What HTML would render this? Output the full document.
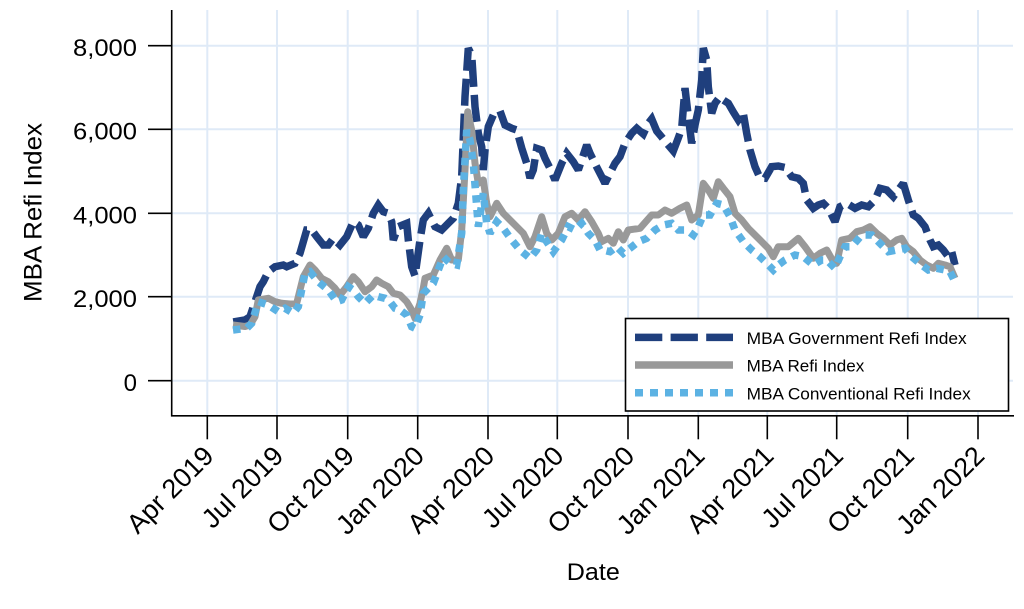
<!DOCTYPE html>
<html>
<head>
<meta charset="utf-8">
<style>
html,body{margin:0;padding:0;background:#fff;}
svg{display:block;}
text{font-family:"Liberation Sans",Arial,sans-serif;fill:#000;}
</style>
</head>
<body>
<svg width="1024" height="609" viewBox="0 0 1024 609" xmlns="http://www.w3.org/2000/svg">
<rect x="0" y="0" width="1024" height="609" fill="#fff"/>
<!-- gridlines -->
<g stroke="#dfeaf7" stroke-width="2">
<line x1="172" y1="45.7" x2="1013" y2="45.7"/>
<line x1="172" y1="129.3" x2="1013" y2="129.3"/>
<line x1="172" y1="213.3" x2="1013" y2="213.3"/>
<line x1="172" y1="296.7" x2="1013" y2="296.7"/>
<line x1="172" y1="380.7" x2="1013" y2="380.7"/>
<line x1="207.3" y1="10" x2="207.3" y2="416"/>
<line x1="277" y1="10" x2="277" y2="416"/>
<line x1="347.7" y1="10" x2="347.7" y2="416"/>
<line x1="417.7" y1="10" x2="417.7" y2="416"/>
<line x1="488" y1="10" x2="488" y2="416"/>
<line x1="557.3" y1="10" x2="557.3" y2="416"/>
<line x1="628" y1="10" x2="628" y2="416"/>
<line x1="698.3" y1="10" x2="698.3" y2="416"/>
<line x1="767.3" y1="10" x2="767.3" y2="416"/>
<line x1="836.7" y1="10" x2="836.7" y2="416"/>
<line x1="907.7" y1="10" x2="907.7" y2="416"/>
<line x1="978" y1="10" x2="978" y2="416"/>
</g>

<!-- Government Refi (navy dashed) -->
<polyline fill="none" stroke="#1f3f7d" stroke-width="7.5" stroke-dasharray="27 8" stroke-linejoin="miter" stroke-miterlimit="2"
points="233.3,322 245,320 250,316.7 255,301.7 260,286.7 263.3,281.7 268.3,271.7 275,266.7 283.3,265 286.7,266.7 295,263.3 300,253.3 306.7,230 311.7,230 316.7,236.7 323.3,245 328.3,245 333.3,238.3 340,245 346.7,236.7 353.3,221.7 358.3,225 363.3,236.7 368.3,228.3 373.3,213.3 378.3,205 383.3,211.7 388.3,213.3 391.7,221.7 393.3,240 398.3,226.7 406.7,223.3 408.3,240 411.7,266.7 415,276 420,240 423.3,220 428.3,213.3 435,226.7 441.7,230 448.3,223.3 453.3,218.3 458.3,203.3 461.7,176.7 465,96.7 468.3,48.3 471.7,55 473.3,80 475,106.7 478.3,133.3 481.7,146.7 483.3,170 485,150 488.3,126.7 493.3,115 500,111 505,125 511.7,128.3 516.7,130 521.7,148 526.7,163.3 530,178 533.3,170 536.7,148.3 541.7,150 545,158.3 550,168.3 555,180 561.7,163.3 566.7,153.3 573.3,161.7 578.3,170 583.3,155 586.7,145 590,153.3 596.7,167 601.7,176.7 605,183.3 610,173.3 615,163.3 620,156.7 625,143.3 631.7,133.3 636.7,128.3 643.3,134 648.3,123.3 651.7,119 656.7,131 661.7,137 666.7,143.3 673.3,151 678.3,138 681.7,128.3 685,88 688.3,116.7 691.7,143.3 695,125 698.3,110 701.7,80 703.3,48 706.7,60 708.3,86.7 711.7,113.3 715,103.3 720,96.7 723.3,100 728.3,103.3 733.3,112 738.3,120 743.3,113.3 746.7,133.3 750,150 755,166.7 760,178 765,178.3 771.7,166.7 778.3,166 785,167.5 791.7,176.7 798.3,178.3 803.3,183.3 806.7,200 813.3,208.3 818.3,205 823.3,203.3 828.3,208.3 835,221.7 840,206.7 846.7,203.3 855,208.3 861.7,205 868.3,206.7 875,200 880,188.3 886.7,190 893.3,196.7 898.3,190 903.3,183.3 908.3,200 913.3,215 918.3,218.3 925,226.7 930,240 933.3,246.7 938.3,245 943.3,250 948.3,256.7 951.7,251.7 955,265"/>

<!-- Refi (gray solid) -->
<polyline fill="none" stroke="#999999" stroke-width="7" stroke-linejoin="round" stroke-linecap="butt"
points="233,325 245,326.5 250,325 255,316.7 258.3,300 268.3,298.3 275,301.7 281.7,303.3 290,304 296.7,303.3 303.3,276.7 310,265 315,270 321.7,278.3 328.3,281.7 335,288.3 340,295 346.7,286.7 353.3,276.7 358.3,281.7 365,291.7 371.7,286.7 376.7,280 381.7,283.3 388.3,286.7 393.3,293.3 400,295 406.7,301.7 411.7,310 415,318.3 420,303.3 423.3,288 425,278.3 433.3,275 440,260 446.7,248.3 451.7,260 458.3,260 461.7,230 465,170 467.7,111.7 471.7,130 475,163.3 478.3,183.3 483.3,180 486.7,203.3 490,216.7 496.7,203.3 503.3,213.3 510,220 516.7,226.7 523.3,233.3 530,246.7 535,236.7 541.7,216.7 546.7,233.3 551.7,240 558.3,233.3 565,216.7 571.7,213.3 578.3,220 585,211.7 591.7,221.7 598.3,233.3 601.7,241.7 608.3,238.3 613.3,243.3 618.3,231.7 623.3,240 628.3,230 640,228.3 651.7,215 658.3,215 665,210 671.7,213.3 680,208.3 686.7,205 691.7,220 698.3,215 703.3,183.3 708.3,190 713.3,198.3 718.3,181.7 723.3,188.3 730,196.7 735,213.3 741.7,220 748.3,228.3 755,235 761.7,241.7 768.3,248.3 773.3,256.7 778.3,246.7 788.3,246.7 798.3,238.3 805,246.7 813.3,258.3 820,253.3 826.7,250 833.3,261.7 836.7,263.3 841.7,240 850,238.3 856.7,231.7 863.3,230 870,226.7 876.7,233.3 883.3,238.3 890,245 896.7,240 901.7,238.3 906.7,246.7 913.3,251.7 920,260 926.7,265 933.3,268.3 938.3,263.3 945,265 950,266.7 955,278.3"/>

<!-- Conventional Refi (light blue dotted) -->
<polyline fill="none" stroke="#5cb2e3" stroke-width="7.5" stroke-dasharray="7.5 7" stroke-linejoin="miter" stroke-miterlimit="2"
points="233,330 246.7,328.3 251.7,323.3 258.3,301.7 268.3,305 278.3,311.7 285,308.3 293.3,313.3 298.3,306.7 305,273.3 310,271.7 318.3,281.7 328.3,290 336.7,301.7 341.7,300 348.3,286.7 353.3,290 358.3,296.7 365,303.3 373.3,295 378.3,296.7 385,298.3 390,301.7 395,308.3 400,310 406.7,315 411.7,326.7 415,328.3 420,315 423.3,293.3 433.3,283.3 438.3,270 443.3,256.7 450,263.3 456.7,265 461.7,233.3 463.3,190 466.7,130 470,140 473.3,163.3 476.7,206.7 478.3,226.7 483.3,193.3 486.7,223.3 490,233.3 496.7,221.7 503.3,228.3 511.7,240 520,250 530,258.3 536.7,250 541.7,233.3 546.7,241.7 553.3,251.7 561.7,240 568.3,226.7 575,230 581.7,223.3 588.3,233.3 595,240 600,250 603.3,250 610,251.7 616.7,246.7 623.3,253.3 630,248.3 638.3,241.7 646.7,238.3 655,230 663.3,225 671.7,223.3 678.3,230 686.7,230 693.3,235 698.3,226.7 703.3,215 710,215 716.7,203.3 723.3,205 730,216.7 735,230 743.3,241.7 751.7,250 760,256.7 766.7,263.3 773.3,270 778.3,265 785,260 795,255 803.3,256.7 813.3,265 821.7,260 826.7,260 835,268.3 840,256.7 845,246.7 851.7,246.7 861.7,235 871.7,235 880,243.3 888.3,251.7 896.7,250 905,248.3 911.7,256.7 921.7,265 928.3,270 936.7,268.3 945,270 950,271.7 955,281.7"/>

<!-- axes -->
<g stroke="#000" stroke-width="1.6" fill="none">
<line x1="171.7" y1="10" x2="171.7" y2="416.5"/>
<line x1="171" y1="415.8" x2="1014" y2="415.8"/>
<line x1="148" y1="45.7" x2="171.7" y2="45.7"/>
<line x1="148" y1="129.3" x2="171.7" y2="129.3"/>
<line x1="148" y1="213.3" x2="171.7" y2="213.3"/>
<line x1="148" y1="296.7" x2="171.7" y2="296.7"/>
<line x1="148" y1="380.7" x2="171.7" y2="380.7"/>
<line x1="207.3" y1="415.8" x2="207.3" y2="439.3"/>
<line x1="277" y1="415.8" x2="277" y2="439.3"/>
<line x1="347.7" y1="415.8" x2="347.7" y2="439.3"/>
<line x1="417.7" y1="415.8" x2="417.7" y2="439.3"/>
<line x1="488" y1="415.8" x2="488" y2="439.3"/>
<line x1="557.3" y1="415.8" x2="557.3" y2="439.3"/>
<line x1="628" y1="415.8" x2="628" y2="439.3"/>
<line x1="698.3" y1="415.8" x2="698.3" y2="439.3"/>
<line x1="767.3" y1="415.8" x2="767.3" y2="439.3"/>
<line x1="836.7" y1="415.8" x2="836.7" y2="439.3"/>
<line x1="907.7" y1="415.8" x2="907.7" y2="439.3"/>
<line x1="978" y1="415.8" x2="978" y2="439.3"/>
</g>

<!-- y tick labels -->
<g font-size="24" text-anchor="end">
<text x="137" y="56" textLength="64" lengthAdjust="spacingAndGlyphs">8,000</text>
<text x="137" y="139.6" textLength="64" lengthAdjust="spacingAndGlyphs">6,000</text>
<text x="137" y="223.6" textLength="64" lengthAdjust="spacingAndGlyphs">4,000</text>
<text x="137" y="307" textLength="64" lengthAdjust="spacingAndGlyphs">2,000</text>
<text x="137" y="391">0</text>
</g>

<!-- y title -->
<text transform="translate(41.5,212.5) rotate(-90)" font-size="25" text-anchor="middle" textLength="179" lengthAdjust="spacingAndGlyphs">MBA Refi Index</text>

<!-- x tick labels -->
<g font-size="27" text-anchor="end">
<text transform="translate(215.3,457.5) rotate(-45)">Apr 2019</text>
<text transform="translate(285,457.5) rotate(-45)">Jul 2019</text>
<text transform="translate(355.7,457.5) rotate(-45)">Oct 2019</text>
<text transform="translate(425.7,457.5) rotate(-45)">Jan 2020</text>
<text transform="translate(496,457.5) rotate(-45)">Apr 2020</text>
<text transform="translate(565.3,457.5) rotate(-45)">Jul 2020</text>
<text transform="translate(636,457.5) rotate(-45)">Oct 2020</text>
<text transform="translate(706.3,457.5) rotate(-45)">Jan 2021</text>
<text transform="translate(775.3,457.5) rotate(-45)">Apr 2021</text>
<text transform="translate(844.7,457.5) rotate(-45)">Jul 2021</text>
<text transform="translate(915.7,457.5) rotate(-45)">Oct 2021</text>
<text transform="translate(986,457.5) rotate(-45)">Jan 2022</text>
</g>

<!-- x title -->
<text x="593.3" y="580" font-size="24" text-anchor="middle" textLength="53" lengthAdjust="spacingAndGlyphs">Date</text>

<!-- legend -->
<rect x="625.5" y="318.5" width="383" height="92.5" fill="#fff" stroke="#000" stroke-width="1.6"/>
<line x1="635" y1="337.4" x2="733" y2="337.4" stroke="#1f3f7d" stroke-width="7.5" stroke-dasharray="27.3 8.3"/>
<line x1="635" y1="365" x2="733" y2="365" stroke="#999999" stroke-width="7.5"/>
<line x1="635" y1="392.7" x2="733" y2="392.7" stroke="#5cb2e3" stroke-width="7.5" stroke-dasharray="8 7"/>
<g font-size="17">
<text x="746.7" y="344" textLength="220" lengthAdjust="spacingAndGlyphs">MBA Government Refi Index</text>
<text x="746.7" y="371.7" textLength="117.6" lengthAdjust="spacingAndGlyphs">MBA Refi Index</text>
<text x="746.7" y="399.3" textLength="224" lengthAdjust="spacingAndGlyphs">MBA Conventional Refi Index</text>
</g>
</svg>
</body>
</html>
